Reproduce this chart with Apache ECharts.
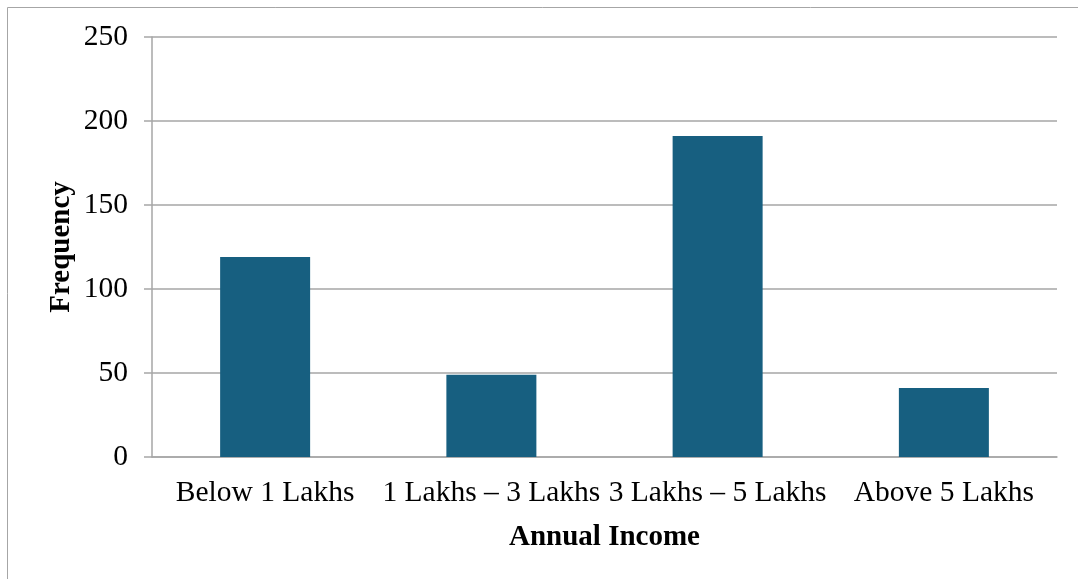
<!DOCTYPE html>
<html>
<head>
<meta charset="utf-8">
<script src="https://cdn.jsdelivr.net/npm/echarts@6/dist/echarts.min.js"></script>
<style>
  html, body { margin: 0; padding: 0; background: #fff; }
  #chart { width: 1078px; height: 579px; }
</style>
</head>
<body>
<div id="chart"></div>
<script>
const categories = ['Below 1 Lakhs', '1 Lakhs – 3 Lakhs', '3 Lakhs – 5 Lakhs', 'Above 5 Lakhs']
const frequency = [119, 49, 191, 41]
const yTicks = [0, 50, 100, 150, 200, 250]

const font = '"Liberation Serif", "Times New Roman", serif'
const chart = echarts.init(document.getElementById('chart'))

chart.setOption({
  animation: false,
  graphic: [
    { type: 'line', shape: { x1: 7.5, y1: 7.5, x2: 1078, y2: 7.5 }, style: { stroke: '#a6a6a6', lineWidth: 1 } },
    { type: 'line', shape: { x1: 7.5, y1: 7.5, x2: 7.5, y2: 579 }, style: { stroke: '#a6a6a6', lineWidth: 1 } }
  ],
  grid: { left: 152, right: 21, top: 37, bottom: 122 },
  xAxis: {
    type: 'category',
    data: categories,
    name: 'Annual Income',
    nameLocation: 'middle',
    nameGap: 66,
    nameTextStyle: { fontFamily: font, fontSize: 29, fontWeight: 'bold', color: '#000' },
    axisLine: { lineStyle: { color: '#a6a6a6', width: 1.5 } },
    axisTick: { show: false },
    axisLabel: { fontFamily: font, fontSize: 29.5, color: '#000', margin: 21, interval: 0 }
  },
  yAxis: {
    type: 'value',
    min: yTicks[0],
    max: yTicks[yTicks.length - 1],
    interval: 50,
    name: 'Frequency',
    nameLocation: 'middle',
    nameMoveOverlap: false,
    nameGap: 76,
    nameTextStyle: { fontFamily: font, fontSize: 29, fontWeight: 'bold', color: '#000' },
    axisLine: { show: true, lineStyle: { color: '#a6a6a6', width: 1.5 } },
    axisTick: { show: true, length: 8, lineStyle: { color: '#a6a6a6', width: 1.5 } },
    axisLabel: { fontFamily: font, fontSize: 29.5, color: '#000', margin: 24 },
    splitLine: { lineStyle: { color: '#a6a6a6', width: 1.5 } }
  },
  series: [{
    type: 'bar',
    data: frequency,
    barWidth: 90,
    itemStyle: { color: '#175f80' }
  }]
})
</script>
</body>
</html>
